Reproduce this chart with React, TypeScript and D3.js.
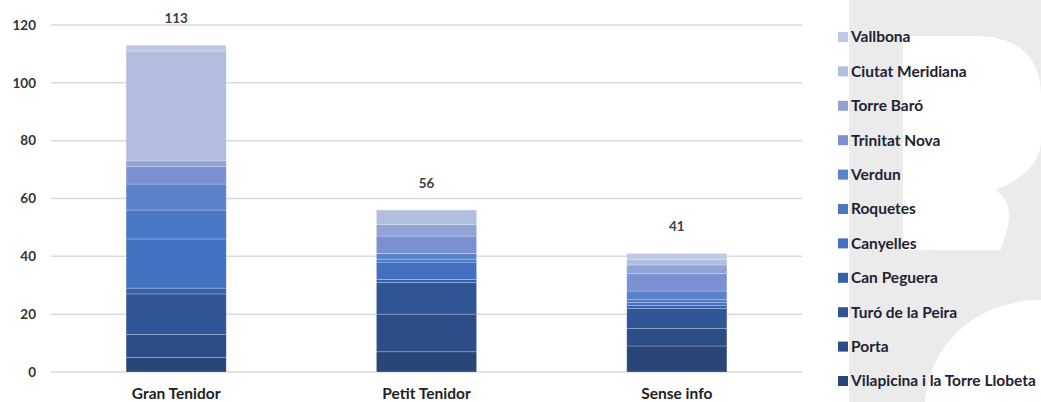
import React from "react";
import * as d3 from "d3";

const categories = ["Gran Tenidor", "Petit Tenidor", "Sense info"];
const seriesNames = [
  "Vilapicina i la Torre Llobeta",
  "Porta",
  "Turó de la Peira",
  "Can Peguera",
  "Canyelles",
  "Roquetes",
  "Verdun",
  "Trinitat Nova",
  "Torre Baró",
  "Ciutat Meridiana",
  "Vallbona",
];
const granTenidor = [5, 8, 14, 2, 17, 10, 9, 6, 2, 38, 2];
const petitTenidor = [7, 13, 11, 1, 6, 1, 2, 6, 4, 5, 0];
const senseInfo = [9, 6, 7, 1, 1, 1, 3, 6, 3, 2, 2];
const totals = [113, 56, 41];
const yTicks = [0, 20, 40, 60, 80, 100, 120];
const seriesColors = [
  "#2a4678",
  "#2c4d88",
  "#2f5597",
  "#3660aa",
  "#4370c0",
  "#4a76c6",
  "#5a82ca",
  "#7a90d0",
  "#90a2d6",
  "#b2bedf",
  "#bfc8e6",
];

const W = 1041;
const H = 402;
const FONT = "Lato, 'Open Sans', sans-serif";

export default function App() {
  const values = [granTenidor, petitTenidor, senseInfo];
  const rows = categories.map((c, i) => {
    const r: any = { cat: c };
    seriesNames.forEach((s, j) => (r[s] = values[i][j]));
    return r;
  });
  const stacked = d3.stack<any>().keys(seriesNames)(rows);

  const x = d3
    .scaleBand()
    .domain(categories)
    .range([51, 802])
    .paddingInner(0.6)
    .paddingOuter(0.3);
  const y = d3.scaleLinear().domain([0, 120]).range([372, 25]);

  const legendY = d3
    .scalePoint()
    .domain([...seriesNames].reverse())
    .range([37, 381]);

  return (
    <svg
      width={W}
      height={H}
      style={{ position: "absolute", left: 0, top: 0, background: "#fff" }}
      fontFamily={FONT}
    >
      {/* background watermark */}
      <rect x={849} y={0} width={W - 849} height={H} fill="#ebebeb" />
      <path
        d="M903,36 H975 C1030,36 1041,70 1041,95 V140 C1041,165 1020,180 995,190 C1010,200 1015,215 1000,250 H903 Z"
        fill="#ffffff"
      />
      <path d="M925,402 C930,340 980,300 1041,300 V402 Z" fill="#ffffff" />

      {/* gridlines */}
      {yTicks.map((t) => (
        <line
          key={t}
          x1={51}
          x2={802}
          y1={y(t)}
          y2={y(t)}
          stroke="#d9d9d9"
          strokeWidth={1.5}
        />
      ))}
      {yTicks.map((t) => (
        <text
          key={"t" + t}
          x={36}
          y={y(t)}
          dy="0.35em"
          textAnchor="end"
          fontSize={13.5}
          fontWeight={700}
          fill="#333"
        >
          {t}
        </text>
      ))}

      {/* bars */}
      {stacked.map((layer, j) => (
        <g key={layer.key} fill={seriesColors[j]}>
          {layer.map((d, i) => {
            const h = y(d[0]) - y(d[1]);
            if (h <= 0) return null;
            return (
              <rect
                key={i}
                x={x(categories[i])}
                y={y(d[1])}
                width={x.bandwidth()}
                height={h}
                stroke="rgba(255,255,255,0.3)"
                strokeWidth={0.75}
              />
            );
          })}
        </g>
      ))}

      {/* totals */}
      {categories.map((c, i) => (
        <text
          key={"v" + c}
          x={(x(c) as number) + x.bandwidth() / 2}
          y={y(totals[i]) - 22}
          textAnchor="middle"
          fontSize={13.5}
          fontWeight={700}
          fill="#404040"
        >
          {totals[i]}
        </text>
      ))}

      {/* category labels */}
      {categories.map((c) => (
        <text
          key={"c" + c}
          x={(x(c) as number) + x.bandwidth() / 2}
          y={399}
          textAnchor="middle"
          fontSize={15.5}
          fontWeight={700}
          fill="#222"
        >
          {c}
        </text>
      ))}

      {/* legend */}
      {seriesNames.map((s, j) => (
        <g key={"l" + s} transform={`translate(838,${legendY(s)})`}>
          <rect x={0} y={-5} width={10} height={10} fill={seriesColors[j]} />
          <text
            x={13}
            y={0}
            dy="0.35em"
            fontSize={15.5}
            fontWeight={700}
            fill="#1f2233"
          >
            {s}
          </text>
        </g>
      ))}
    </svg>
  );
}
